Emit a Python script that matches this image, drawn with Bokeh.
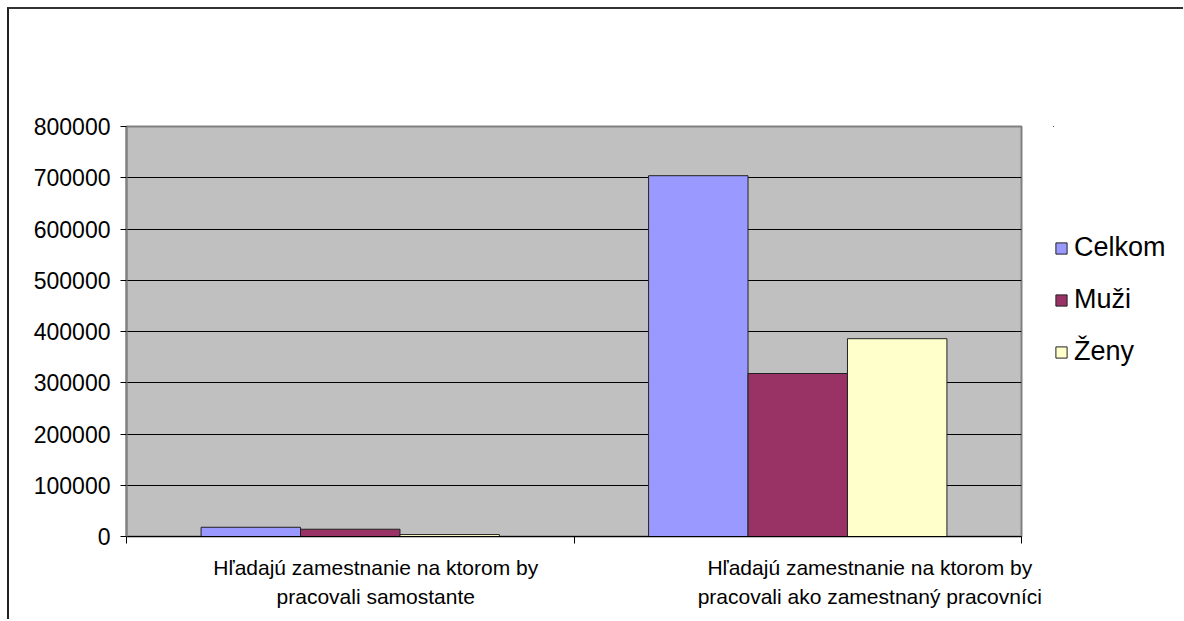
from bokeh.plotting import figure
from bokeh.layouts import row
from bokeh.models import Range1d, FixedTicker, Legend, LegendItem, LinearAxis, NumeralTickFormatter
from bokeh.embed import file_html
from bokeh.resources import INLINE

# ---- data ----
categories = [
    "Hľadajú zamestnanie na ktorom by\npracovali samostante",
    "Hľadajú zamestnanie na ktorom by\npracovali ako zamestnaný pracovníci",
]
series_names = ["Celkom", "Muži", "Ženy"]
celkom = [18000, 704000]
muzi = [14200, 318000]
zeny = [3800, 386000]
y_ticks = [0, 100000, 200000, 300000, 400000, 500000, 600000, 700000, 800000]
colors = ["#9999FF", "#993366", "#FFFFCC"]

FONT = "Liberation Sans"

p = figure(width=1174, height=610, output_backend="svg", toolbar_location=None,
           x_range=Range1d(0, len(categories)), y_range=Range1d(0, 800000),
           min_border_left=117, min_border_top=117, min_border_right=162,
           min_border_bottom=83)

p.background_fill_color = "#C0C0C0"
p.border_fill_color = "white"
p.outline_line_color = "#808080"
p.outline_line_width = 2

centers = [i + 0.5 for i in range(len(categories))]
bar_w = 1 / 4.5
series = [celkom, muzi, zeny]
for k, vals in enumerate(series):
    xs = [c + (k - 1) * bar_w for c in centers]
    p.vbar(x=xs, top=vals, bottom=0, width=bar_w, fill_color=colors[k],
           line_color="#222222", line_width=1)

# y axis
p.yaxis.ticker = FixedTicker(ticks=y_ticks)
p.yaxis.formatter = NumeralTickFormatter(format="0")
p.yaxis.major_label_text_font = FONT
p.yaxis.major_label_text_font_size = "23px"
p.yaxis.major_label_text_color = "black"
p.yaxis.axis_line_color = "#808080"
p.yaxis.axis_line_width = 2
p.yaxis.major_tick_in = 0
p.yaxis.major_tick_out = 6
p.yaxis.major_tick_line_color = "black"
p.yaxis.minor_tick_line_color = None
p.yaxis.major_label_standoff = 10

# x axis: category boundaries with tick marks only
p.xaxis.ticker = FixedTicker(ticks=list(range(len(categories) + 1)))
p.xaxis.major_label_overrides = {i: "" for i in range(len(categories) + 1)}
p.xaxis.major_label_text_font_size = "1px"
p.xaxis.major_label_standoff = 0
p.xaxis.axis_line_color = "black"
p.xaxis.major_tick_in = 0
p.xaxis.major_tick_out = 7
p.xaxis.major_tick_line_color = "black"
p.xaxis.minor_tick_line_color = None

# second axis below carrying the category labels
label_dx = [0.057, 0.161]
label_pos = [c + d for c, d in zip(centers, label_dx)]
cat_axis = LinearAxis(ticker=FixedTicker(ticks=label_pos),
                      major_label_overrides={pos: cat for pos, cat in zip(label_pos, categories)},
                      axis_line_color=None, major_tick_line_color=None,
                      minor_tick_line_color=None, major_tick_in=0, major_tick_out=0,
                      major_label_standoff=12,
                      major_label_text_font=FONT, major_label_text_font_size="21px",
                      major_label_text_color="black", major_label_text_line_height=1.3)
p.add_layout(cat_axis, "below")

# grid
p.xgrid.grid_line_color = None
p.ygrid.ticker = FixedTicker(ticks=y_ticks)
p.ygrid.grid_line_color = "black"
p.ygrid.grid_line_width = 1

# legend panel, overlaid on the right margin of the chart
lg = figure(width=130, height=610, output_backend="svg", toolbar_location=None,
            x_axis_location=None, y_axis_location=None,
            x_range=Range1d(10, 11), y_range=Range1d(-2, -1),
            min_border=0)
lg.grid.visible = False
lg.outline_line_color = None
lg.background_fill_alpha = 0
lg.border_fill_alpha = 0
lg.styles = {"margin-left": "-130px"}
# same series drawn out of this panel's view, only to feed the legend swatches
legend_renderers = [lg.vbar(x=centers, top=vals, bottom=0, width=bar_w,
                            fill_color=colors[k], line_color="#222222")
                    for k, vals in enumerate(series)]
legend = Legend(items=[LegendItem(label=n, renderers=[r])
                       for n, r in zip(series_names, legend_renderers)],
                location=(1, 169), padding=0, margin=0,
                border_line_color=None, background_fill_alpha=0,
                glyph_width=14, glyph_height=14, label_standoff=6,
                label_text_font=FONT, label_text_font_size="27px",
                label_text_color="black",
                label_height=31, spacing=21)
lg.add_layout(legend)

layout = row(p, lg)
layout.styles = {"margin-left": "7px", "margin-top": "7px",
                 "border-left": "2px solid #222222", "border-top": "2px solid #333333"}

open("out.html", "w").write(file_html(layout, INLINE))
